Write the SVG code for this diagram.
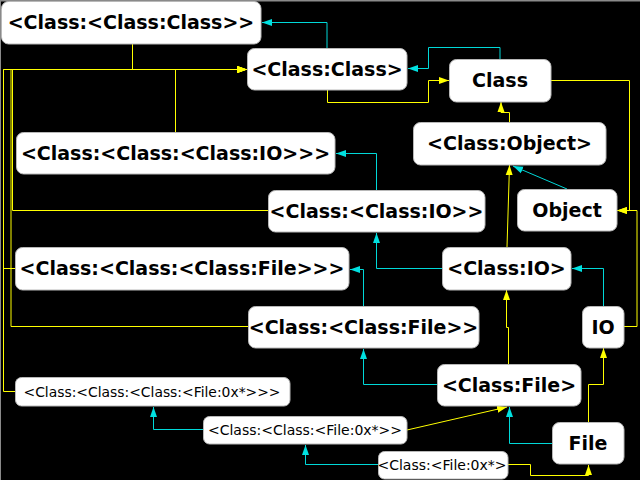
<svg xmlns="http://www.w3.org/2000/svg" width="640" height="480" viewBox="0 0 640 480">
<defs>
<style>
.node rect{fill:#ffffff;stroke:#b8b8b8;stroke-width:1}
.big{font-family:"DejaVu Sans","Noto Sans",sans-serif;font-weight:bold;font-size:19px;fill:#000;text-anchor:middle}
.small{font-family:"DejaVu Sans","Noto Sans",sans-serif;font-size:14px;fill:#000;text-anchor:middle}
.y{fill:none;stroke:#ffff00;stroke-width:1;marker-end:url(#ay)}
.c{fill:none;stroke:#00d8d8;stroke-width:1;marker-end:url(#ac)}
.yn{fill:none;stroke:#ffff00;stroke-width:1}
</style>
<marker id="ay" markerUnits="userSpaceOnUse" markerWidth="10" markerHeight="8" refX="10" refY="4" orient="auto" viewBox="0 0 10 8">
<path d="M0,0.5 L10,4 L0,7.5 z" fill="#ffff00"/>
</marker>
<marker id="ac" markerUnits="userSpaceOnUse" markerWidth="10" markerHeight="8" refX="10" refY="4" orient="auto" viewBox="0 0 10 8">
<path d="M0,0.5 L10,4 L0,7.5 z" fill="#00e0e0"/>
</marker>
</defs>
<rect x="0" y="0" width="640" height="480" fill="#000000"/>
<line x1="0" y1="0.75" x2="640" y2="0.75" stroke="#8a8a8a" stroke-width="1.5"/>
<line x1="0.5" y1="0" x2="0.5" y2="480" stroke="#8a8a8a" stroke-width="1"/>

<g id="connectors">
<!-- cyan -->
<path class="c" d="M327,48 V22.5 H262"/>
<path class="c" d="M500,59 V47.5 H428.5 V68.5 H408"/>
<path class="c" d="M567,189 L513,166"/>
<path class="c" d="M376.5,190 V153.5 H336"/>
<path class="c" d="M442,268.5 H376.5 V233"/>
<path class="c" d="M603.5,306 V268.5 H572"/>
<path class="c" d="M363.5,306 V269.5 H350"/>
<path class="c" d="M437,384.5 H363.5 V349"/>
<path class="c" d="M552,443.5 H509.5 V407"/>
<path class="c" d="M203,429.5 H153.5 V407"/>
<path class="c" d="M378,464.5 H305.5 V445"/>
<!-- yellow -->
<path class="y" d="M132.5,44 V69.5 H247"/>
<path class="yn" d="M175.5,132 V69.5"/>
<path class="y" d="M268,210.5 H12.5 V69.5 H247"/>
<path class="y" d="M15,268.5 H3.5 V69.5 H247"/>
<path class="y" d="M248,326.5 H11 V69.5 H247"/>
<path class="y" d="M15,391.5 H3.5 V69.5 H247"/>
<path class="y" d="M327.5,90 V102.5 H428.5 V80.5 H449"/>
<path class="y" d="M509.5,122 V112.5 H501 V102"/>
<path class="y" d="M551,80.5 H629.5 V210.5 H617"/>
<path class="y" d="M624,326.5 H637 V210.5 H617"/>
<path class="y" d="M507,247 L509.5,165"/>
<path class="y" d="M508.5,364 V327.5 H506.5 V290"/>
<path class="y" d="M588.5,422 V384.5 H603.5 V348"/>
<path class="y" d="M407,430 L507,407"/>
<path class="y" d="M508,464.5 H530.5 V475.5 H588.5 V465"/>
</g>

<g id="n_class_class_class" class="node"><rect x="1.5" y="1.5" width="259.5" height="42.5" rx="7"/><text class="big" x="131" y="29">&lt;Class:&lt;Class:Class&gt;&gt;</text></g>
<g id="n_class_class" class="node"><rect x="247.5" y="48.5" width="159.5" height="41.5" rx="7"/><text class="big" x="327" y="76">&lt;Class:Class&gt;</text></g>
<g id="n_class" class="node"><rect x="449.5" y="59.5" width="101.5" height="42.5" rx="7"/><text class="big" x="500" y="87">Class</text></g>
<g id="n_ccc_io" class="node"><rect x="16.5" y="132.5" width="318.5" height="41.5" rx="7"/><text class="big" x="175.5" y="160">&lt;Class:&lt;Class:&lt;Class:IO&gt;&gt;&gt;</text></g>
<g id="n_class_object" class="node"><rect x="413.5" y="122.5" width="192.5" height="42.5" rx="7"/><text class="big" x="509.5" y="150">&lt;Class:Object&gt;</text></g>
<g id="n_cc_io" class="node"><rect x="268.5" y="190.5" width="216.5" height="41.5" rx="7"/><text class="big" x="376.5" y="218">&lt;Class:&lt;Class:IO&gt;&gt;</text></g>
<g id="n_object" class="node"><rect x="517.5" y="189.5" width="99.5" height="41.5" rx="7"/><text class="big" x="567" y="217">Object</text></g>
<g id="n_ccc_file" class="node"><rect x="15.5" y="247.5" width="333.5" height="42.5" rx="7"/><text class="big" x="182" y="275">&lt;Class:&lt;Class:&lt;Class:File&gt;&gt;&gt;</text></g>
<g id="n_class_io" class="node"><rect x="442.5" y="247.5" width="128.5" height="42.5" rx="7"/><text class="big" x="506.5" y="275">&lt;Class:IO&gt;</text></g>
<g id="n_cc_file" class="node"><rect x="248.5" y="306.5" width="230.5" height="41.5" rx="7"/><text class="big" x="363.5" y="334">&lt;Class:&lt;Class:File&gt;&gt;</text></g>
<g id="n_io" class="node"><rect x="582.5" y="306.5" width="41.5" height="41.5" rx="7"/><text class="big" x="603" y="334">IO</text></g>
<g id="n_class_file" class="node"><rect x="437.5" y="364.5" width="143.5" height="41.5" rx="7"/><text class="big" x="509" y="392">&lt;Class:File&gt;</text></g>
<g id="n_ccc_fileobj" class="node"><rect x="15.5" y="377.5" width="274.5" height="28.5" rx="6"/><text class="small" x="152" y="397" textLength="257" lengthAdjust="spacingAndGlyphs">&lt;Class:&lt;Class:&lt;Class:&lt;File:0x*&gt;&gt;&gt;</text></g>
<g id="n_cc_fileobj" class="node"><rect x="203.5" y="416.5" width="203.5" height="27.5" rx="6"/><text class="small" x="305" y="435">&lt;Class:&lt;Class:&lt;File:0x*&gt;&gt;</text></g>
<g id="n_file" class="node"><rect x="552.5" y="422.5" width="71.5" height="41.5" rx="7"/><text class="big" x="588" y="450">File</text></g>
<g id="n_c_fileobj" class="node"><rect x="378.5" y="451.5" width="129.5" height="27.5" rx="6"/><text class="small" x="442" y="470">&lt;Class:&lt;File:0x*&gt;</text></g>
</svg>
